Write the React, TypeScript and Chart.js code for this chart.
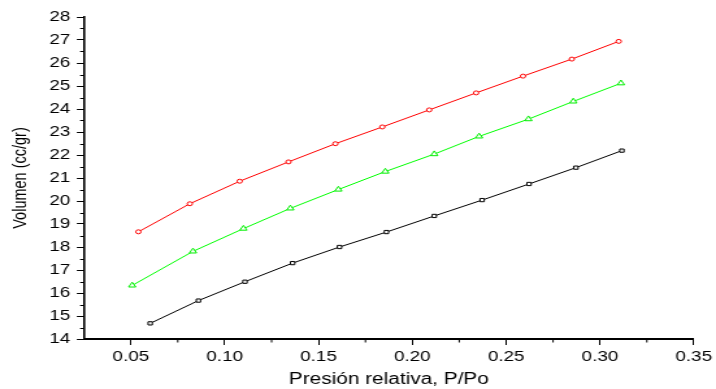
import React, { useEffect, useRef } from "react";
import { Chart, registerables } from "chart.js";

Chart.register(...registerables);

// ---- data ----
const blackX = [0.0603, 0.086, 0.1108, 0.1362, 0.1612, 0.1862, 0.2117, 0.2372, 0.2622, 0.2872, 0.3117];
const blackY = [14.68, 15.67, 16.49, 17.3, 18.0, 18.65, 19.35, 20.04, 20.74, 21.45, 22.19];

const greenX = [0.0507, 0.0831, 0.11, 0.135, 0.1606, 0.1856, 0.2117, 0.2356, 0.2619, 0.2858, 0.3112];
const greenY = [16.33, 17.81, 18.8, 19.68, 20.5, 21.28, 22.04, 22.81, 23.56, 24.33, 25.12];

const redX = [0.054, 0.0814, 0.108, 0.134, 0.159, 0.184, 0.209, 0.234, 0.259, 0.285, 0.31];
const redY = [18.66, 19.88, 20.86, 21.7, 22.49, 23.22, 23.96, 24.7, 25.43, 26.17, 26.94];

const xMajorTicks = [0.05, 0.1, 0.15, 0.2, 0.25, 0.3, 0.35];
const xMinorTicks = [0.075, 0.125, 0.175, 0.225, 0.275, 0.325];
const xMin = 0.025;
const xMax = 0.35;
const yMin = 14;
const yMax = 28;

const xTitle = "Presión relativa, P/Po";
const yTitle = "Volumen (cc/gr)";

// ---- layout ----
const W = 716;
const H = 389;
const SX = 1.3; // horizontal stretch of the reference
const CW = Math.round(W / SX);

const toPts = (xs: number[], ys: number[]) => xs.map((x, i) => ({ x, y: ys[i] }));

const minorTicksPlugin = {
  id: "minorTicks",
  afterDraw(chart: any) {
    const ctx = chart.ctx;
    const xs = chart.scales.x;
    const ys = chart.scales.y;
    const area = chart.chartArea;
    ctx.save();
    ctx.strokeStyle = "#000";
    ctx.lineWidth = 1;
    ctx.beginPath();
    for (const v of xMinorTicks) {
      const px = xs.getPixelForValue(v);
      ctx.moveTo(px, area.bottom);
      ctx.lineTo(px, area.bottom + 3.5);
    }
    for (let v = yMin + 0.5; v < yMax; v += 1) {
      const py = Math.round(ys.getPixelForValue(v)) + 0.5;
      ctx.moveTo(area.left, py);
      ctx.lineTo(area.left - 3, py);
    }
    ctx.stroke();
    ctx.restore();
  },
};

export default function App() {
  const ref = useRef<HTMLCanvasElement | null>(null);

  useEffect(() => {
    if (!ref.current) return;
    const font = { family: "'Liberation Sans', Arial, sans-serif", size: 14.5 };
    const chart = new Chart(ref.current, {
      type: "line",
      data: {
        datasets: [
          {
            data: toPts(blackX, blackY),
            borderColor: "#000000",
            backgroundColor: "#ffffff",
            pointBackgroundColor: "#ffffff",
            pointBorderColor: "#000000",
            pointStyle: "rect",
            pointRadius: 2.3,
            pointBorderWidth: 1,
            borderWidth: 1,
          },
          {
            data: toPts(greenX, greenY),
            borderColor: "#00ff00",
            backgroundColor: "#ffffff",
            pointBackgroundColor: "#ffffff",
            pointBorderColor: "#00ee00",
            pointStyle: "triangle",
            pointRadius: 3.2,
            pointBorderWidth: 1,
            borderWidth: 1,
          },
          {
            data: toPts(redX, redY),
            borderColor: "#ff0000",
            backgroundColor: "#ffffff",
            pointBackgroundColor: "#ffffff",
            pointBorderColor: "#ff0000",
            pointStyle: "circle",
            pointRadius: 2,
            pointBorderWidth: 1,
            borderWidth: 1,
          },
        ],
      },
      options: {
        animation: false,
        responsive: false,
        devicePixelRatio: 1,
        events: [],
        layout: { padding: { top: 17, right: CW - Math.round(697 / SX * 10) / 10, left: 0, bottom: 0 } },
        plugins: {
          legend: { display: false },
          tooltip: { enabled: false },
        },
        scales: {
          x: {
            type: "linear",
            min: xMin,
            max: xMax,
            afterBuildTicks: (s: any) => {
              s.ticks = xMajorTicks.map((v) => ({ value: v }));
            },
            afterFit: (s: any) => {
              s.height = H - 339;
            },
            grid: {
              drawOnChartArea: false,
              drawTicks: true,
              tickLength: 6,
              tickColor: "#000",
              tickWidth: 1,
            },
            border: { display: true, color: "#000", width: 2 },
            ticks: {
              color: "#000",
              font,
              padding: 3,
              maxRotation: 0,
              autoSkip: false,
              callback: (v: any) => Number(v).toFixed(2),
            },
            title: {
              display: true,
              text: xTitle,
              color: "#000",
              font: { family: font.family, size: 16 },
              padding: { top: 0, bottom: 0 },
            },
          },
          y: {
            type: "linear",
            min: yMin,
            max: yMax,
            afterFit: (s: any) => {
              s.width = 84 / SX;
            },
            grid: {
              drawOnChartArea: false,
              drawTicks: true,
              tickLength: 5.5,
              tickColor: "#000",
              tickWidth: 1,
            },
            border: { display: true, color: "#000", width: 1.6 },
            ticks: {
              color: "#000",
              font,
              padding: 5,
              stepSize: 1,
              autoSkip: false,
            },
            title: {
              display: true,
              text: yTitle,
              color: "#000",
              font: { family: font.family, size: 14.5 },
              padding: { top: 7, bottom: 0 },
            },
          },
        },
      },
      plugins: [minorTicksPlugin],
    });
    return () => chart.destroy();
  }, []);

  return (
    <div style={{ position: "absolute", left: 0, top: 0, width: W, height: H, background: "#fff" }}>
      <canvas
        ref={ref}
        width={CW}
        height={H}
        style={{ width: W + "px", height: H + "px", display: "block" }}
      />
    </div>
  );
}
